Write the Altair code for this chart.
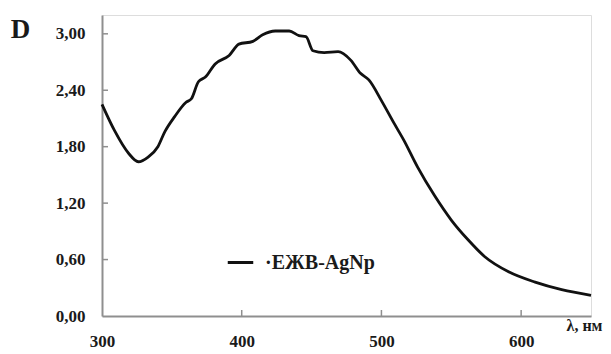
import altair as alt
import pandas as pd

wavelength = [300, 309, 319, 326, 333, 340, 345, 352, 360, 364, 369, 374, 381, 391, 398,
              408, 415, 424, 434, 441, 446, 451, 459, 469, 478, 485, 491, 500, 509, 516,
              526, 538, 550, 562, 574, 591, 610, 629, 650]
absorbance = [2.25, 1.97, 1.73, 1.64, 1.69, 1.80, 1.96, 2.12, 2.27, 2.31, 2.49, 2.54, 2.68,
              2.77, 2.89, 2.92, 2.99, 3.03, 3.03, 2.98, 2.97, 2.82, 2.80, 2.81, 2.72, 2.58,
              2.51, 2.29, 2.05, 1.87, 1.58, 1.28, 1.02, 0.81, 0.63, 0.47, 0.36, 0.28, 0.22]
series_name = "·ЕЖВ-AgNp"
y_ticks = [0.0, 0.6, 1.2, 1.8, 2.4, 3.0]
x_ticks = [300, 400, 500, 600]

FONT = "Liberation Serif"
TXT = "#1a1a1a"
AX = "#8f8f8f"

df = pd.DataFrame({"wl": wavelength, "D": absorbance, "s": [series_name] * len(wavelength)})

xscale = alt.Scale(domain=[300, 650], nice=False, zero=False)
yscale = alt.Scale(domain=[0, 3.2], nice=False)

line = alt.Chart(df).mark_line(strokeWidth=2.8, interpolate="monotone").encode(
    x=alt.X("wl:Q", scale=xscale,
            axis=alt.Axis(values=x_ticks, title="λ, нм", grid=False, tickSize=0,
                          labelFlush=False, labelPadding=17, labelFontSize=17,
                          labelFontWeight="bold", labelColor=TXT,
                          domainColor=AX, domainWidth=2,
                          titleFontSize=16, titleFontWeight="bold",
                          titleColor=TXT, titleX=482, titleY=14, titleAlign="center",
                          titleBaseline="alphabetic")),
    y=alt.Y("D:Q", scale=yscale,
            axis=alt.Axis(values=y_ticks, title="D", grid=False, tickSize=0,
                          labelFlush=False, labelPadding=17, labelFontSize=17,
                          labelFontWeight="bold", labelColor=TXT,
                          labelExpr="replace(format(datum.value, '.2f'), '.', ',')",
                          domainColor=AX, domainWidth=2,
                          titleFontSize=27, titleFontWeight="bold",
                          titleColor=TXT, titleAngle=0, titleX=-82, titleY=22,
                          titleAlign="center", titleBaseline="alphabetic")),
    color=alt.Color("s:N", scale=alt.Scale(range=["#111111"]),
                    legend=alt.Legend(title=None, orient="none", legendX=124, legendY=233,
                                      symbolType="stroke", symbolSize=650,
                                      symbolStrokeWidth=3, labelOffset=10,
                                      labelFontSize=20,
                                      labelFontWeight="bold", labelColor=TXT)),
)

ytick_df = pd.DataFrame({"v": y_ticks[1:]})
xtick_df = pd.DataFrame({"v": x_ticks[1:]})

yt = alt.Chart(ytick_df).mark_rule(color=AX, strokeWidth=1.5).encode(
    y=alt.Y("v:Q", scale=yscale), x=alt.value(0), x2=alt.value(6))
xt = alt.Chart(xtick_df).mark_rule(color=AX, strokeWidth=1.5).encode(
    x=alt.X("v:Q", scale=xscale), y=alt.value(301), y2=alt.value(295))

chart = alt.layer(line, yt, xt).properties(
    width=489, height=301,
    autosize=alt.AutoSizeParams(type="none"),
    padding={"left": 102, "top": 15, "right": 20, "bottom": 38},
).configure_view(stroke=None).configure(background="white", font=FONT)

chart.save("out.html", embed_options={"renderer": "svg", "actions": False})
